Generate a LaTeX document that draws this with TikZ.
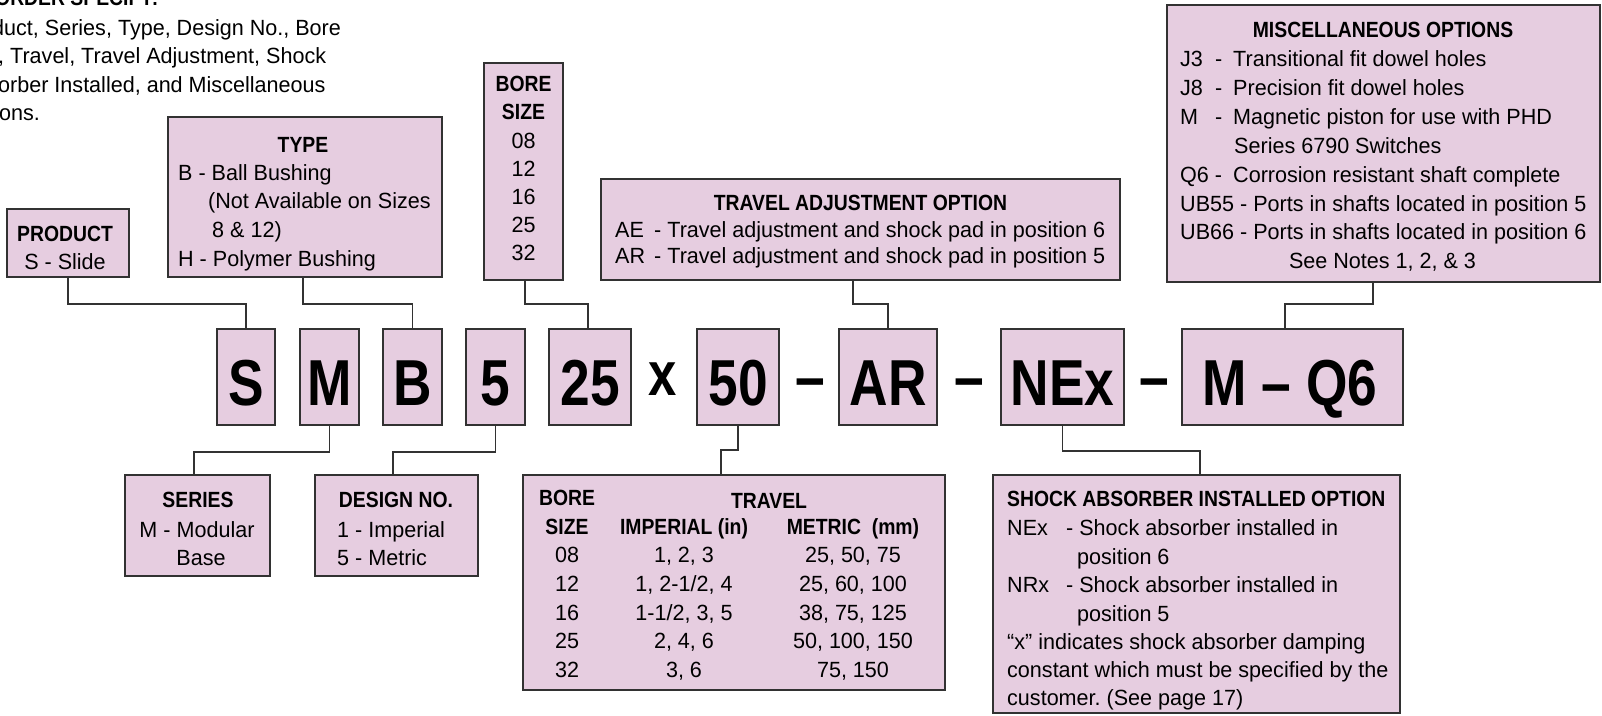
\documentclass[tikz,border=0pt]{standalone}
\usepackage{fontspec}
\setmainfont{Liberation Sans}[FakeStretch=0.98]
\newfontfamily\hdfont{Liberation Sans}[FakeStretch=0.88]
\newfontfamily\codefont{Liberation Sans}[FakeStretch=0.82]
\definecolor{bfill}{RGB}{230,205,224}
\definecolor{bline}{RGB}{50,50,50}
\frenchspacing
\tikzset{
  box/.style={draw=bline, fill=bfill, line width=1.5pt, inner sep=0pt},
  tl/.style={anchor=base west, inner sep=0pt, font=\fontsize{22}{26}\selectfont},
  tc/.style={anchor=base, inner sep=0pt, font=\fontsize{22}{26}\selectfont},
  hc/.style={anchor=base, inner sep=0pt, font=\hdfont\bfseries\fontsize{22}{26}\selectfont},
  hl/.style={anchor=base west, inner sep=0pt, font=\hdfont\bfseries\fontsize{22}{26}\selectfont},
  code/.style={anchor=base, inner sep=0pt, font=\codefont\bfseries\fontsize{65}{65}\selectfont},
  link/.style={draw=bline, line width=1.5pt}
}
\begin{document}
\begin{tikzpicture}[x=1pt,y=-1pt]
\clip (0,0) rectangle (1602,715);
\path[fill=white] (0,0) rectangle (1602,715);

% top-left note (cut off by the page edge)
\node[hl] (n0) at (-5,5) {ORDER SPECIFY:};
\node[tl] (n1) at (-8,35) {duct, Series, Type, Design No., Bore};
\node[tl] (n2) at (-2,63) {, Travel, Travel Adjustment, Shock};
\node[tl] (n3) at (-2,92) {orber Installed, and Miscellaneous};
\node[tl] (n4) at (-1,120) {ons.};

% upper boxes
\node[box, minimum width=122pt, minimum height=68pt] (product) at (68,243) {};
\node[box, minimum width=274pt, minimum height=160pt] (type) at (305,197) {};
\node[box, minimum width=79pt, minimum height=217pt] (bore) at (523.5,171.5) {};
\node[box, minimum width=519pt, minimum height=101pt] (tadj) at (860.5,229.5) {};
\node[box, minimum width=433pt, minimum height=277pt] (misc) at (1383.5,143.5) {};

% code boxes
\node[box, minimum width=58pt, minimum height=96pt] (cS) at (246,377) {};
\node[box, minimum width=59pt, minimum height=96pt] (cM) at (329.5,377) {};
\node[box, minimum width=59pt, minimum height=96pt] (cB) at (412.5,377) {};
\node[box, minimum width=59pt, minimum height=96pt] (c5) at (495.5,377) {};
\node[box, minimum width=82pt, minimum height=96pt] (c25) at (590,377) {};
\node[box, minimum width=82pt, minimum height=96pt] (c50) at (738,377) {};
\node[box, minimum width=98pt, minimum height=96pt] (cAR) at (888,377) {};
\node[box, minimum width=123pt, minimum height=96pt] (cNE) at (1062.5,377) {};
\node[box, minimum width=221pt, minimum height=96pt] (cMQ) at (1292.5,377) {};

% lower boxes
\node[box, minimum width=145pt, minimum height=101pt] (series) at (197.5,525.5) {};
\node[box, minimum width=163pt, minimum height=101pt] (design) at (396.5,525.5) {};
\node[box, minimum width=422pt, minimum height=215pt] (table) at (734,582.5) {};
\node[box, minimum width=407pt, minimum height=238pt] (shock) at (1196.5,594) {};

% connectors
\draw[link] (product.south) -- ++(0,26) -| (cS.north);
\draw[link] ([xshift=-2pt]type.south) -- ++(0,26) -| (cB.north);
\draw[link] ([xshift=1.5pt]bore.south) -- ++(0,23) -| ([xshift=-2pt]c25.north);
\draw[link] ([xshift=-7.5pt]tadj.south) -- ++(0,23) -| (cAR.north);
\draw[link] ([xshift=-10.5pt]misc.south) -- ++(0,21) -| ([xshift=-7.5pt]cMQ.north);
\draw[link] (cM.south) -- ++(0,26) -| ([xshift=-3.5pt]series.north);
\draw[link] (c5.south) -- ++(0,26) -| ([xshift=-3.5pt]design.north);
\draw[link] (c50.south) -- ++(0,24) -| ([xshift=-13pt]table.north);
\draw[link] (cNE.south) -- ++(0,25) -| ([xshift=3.5pt]shock.north);

% code letters
\node[code] (tS) at (246,405) {S};
\node[code] (tM) at (329.5,405) {M};
\node[code] (tB) at (412.5,405) {B};
\node[code] (t5) at (495.5,405) {5};
\node[code] (t25) at (590,405) {25};
\node[code, font=\codefont\bfseries\fontsize{62}{62}\selectfont] (tx) at (663,395) {x};
\node[code] (t50) at (738,405) {50};
\node[code] (d1) at (810.5,399) {–};
\node[code] (tAR) at (888,405) {AR};
\node[code] (d2) at (969,399) {–};
\node[code] (tNE) at (1062.5,405) {NEx};
\node[code] (d3) at (1154,399) {–};
\node[code] (tMQ) at (1290,405) {M – Q6};

% PRODUCT
\node[hc] (p1) at (65,241) {PRODUCT};
\node[tc] (p2) at (65,269) {S - Slide};

% TYPE
\node[hc] (y1) at (303,152) {TYPE};
\node[tl] (y2) at (178,180) {B - Ball Bushing};
\node[tl] (y3) at (208,208) {(Not Available on Sizes};
\node[tl] (y4) at (212,237) {8 \& 12)};
\node[tl] (y5) at (178,266) {H - Polymer Bushing};

% BORE SIZE
\node[hc] (b1) at (523.5,91) {BORE};
\node[hc] (b2) at (523.5,119) {SIZE};
\node[tc] (b3) at (523.5,148) {08};
\node[tc] (b4) at (523.5,176) {12};
\node[tc] (b5) at (523.5,204) {16};
\node[tc] (b6) at (523.5,232) {25};
\node[tc] (b7) at (523.5,260) {32};

% TRAVEL ADJUSTMENT
\node[hc] (a1) at (860.5,210) {TRAVEL ADJUSTMENT OPTION};
\node[tl] (a2) at (615,237) {AE};
\node[tl] (a3) at (654,237) {- Travel adjustment and shock pad in position 6};
\node[tl] (a4) at (615,263) {AR};
\node[tl] (a5) at (654,263) {- Travel adjustment and shock pad in position 5};

% MISC
\node[hc] (m1) at (1383,37) {MISCELLANEOUS OPTIONS};
\node[tl] (m2) at (1180,66) {J3};
\node[tl] (m2b) at (1215,66) {-};
\node[tl] (m2c) at (1233,66) {Transitional fit dowel holes};
\node[tl] (m3) at (1180,95) {J8};
\node[tl] (m3b) at (1215,95) {-};
\node[tl] (m3c) at (1233,95) {Precision fit dowel holes};
\node[tl] (m4) at (1180,124) {M};
\node[tl] (m4b) at (1215,124) {-};
\node[tl] (m4c) at (1233,124) {Magnetic piston for use with PHD};
\node[tl] (m5) at (1234,153) {Series 6790 Switches};
\node[tl] (m6) at (1180,182) {Q6 -};
\node[tl] (m6c) at (1233,182) {Corrosion resistant shaft complete};
\node[tl] (m7) at (1180,211) {UB55 - Ports in shafts located in position 5};
\node[tl] (m8) at (1180,239) {UB66 - Ports in shafts located in position 6};
\node[tc] (m9) at (1382.5,268) {See Notes 1, 2, \& 3};

% SERIES
\node[hc] (s1) at (198,507) {SERIES};
\node[tc] (s2) at (197,537) {M - Modular};
\node[tc] (s3) at (201,565) {Base};

% DESIGN
\node[hc] (g1) at (396,507) {DESIGN NO.};
\node[tl] (g2) at (337,537) {1 - Imperial};
\node[tl] (g3) at (337,565) {5 - Metric};

% TRAVEL table
\node[hc] (h1) at (567,505) {BORE};
\node[hc] (h2) at (567,534) {SIZE};
\node[hc] (h3) at (769,508) {TRAVEL};
\node[hc] (h4) at (684,534) {IMPERIAL (in)};
\node[hc] (h5) at (853,534) {METRIC\ \ (mm)};
\node[tc] (r1a) at (567,562) {08};
\node[tc] (r1b) at (684,562) {1, 2, 3};
\node[tc] (r1c) at (853,562) {25, 50, 75};
\node[tc] (r2a) at (567,591) {12};
\node[tc] (r2b) at (684,591) {1, 2-1/2, 4};
\node[tc] (r2c) at (853,591) {25, 60, 100};
\node[tc] (r3a) at (567,620) {16};
\node[tc] (r3b) at (684,620) {1-1/2, 3, 5};
\node[tc] (r3c) at (853,620) {38, 75, 125};
\node[tc] (r4a) at (567,648) {25};
\node[tc] (r4b) at (684,648) {2, 4, 6};
\node[tc] (r4c) at (853,648) {50, 100, 150};
\node[tc] (r5a) at (567,677) {32};
\node[tc] (r5b) at (684,677) {3, 6};
\node[tc] (r5c) at (853,677) {75, 150};

% SHOCK
\node[hl] (k1) at (1007,506) {SHOCK ABSORBER INSTALLED OPTION};
\node[tl] (k2) at (1007,535) {NEx};
\node[tl] (k2b) at (1066,535) {- Shock absorber installed in};
\node[tl] (k3) at (1077,564) {position 6};
\node[tl] (k4) at (1007,592) {NRx};
\node[tl] (k4b) at (1066,592) {- Shock absorber installed in};
\node[tl] (k5) at (1077,621) {position 5};
\node[tl] (k6) at (1007,649) {“x” indicates shock absorber damping};
\node[tl] (k7) at (1007,677) {constant which must be specified by the};
\node[tl] (k8) at (1007,705) {customer. (See page 17)};
\end{tikzpicture}
\end{document}
